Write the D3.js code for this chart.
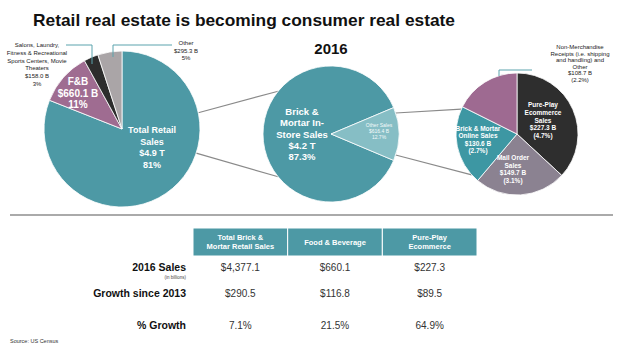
<!DOCTYPE html>
<html>
<head>
<meta charset="utf-8">
<script src="https://cdn.jsdelivr.net/npm/d3@7"></script>
<style>
  body { margin: 0; background: #fff; }
  text { font-family: "Liberation Sans", Arial, sans-serif; }
</style>
</head>
<body>
<div id="chart"></div>
<script>
// data
var retailNames = ["Total Retail Sales", "F&B", "Salons", "Other"];
var retailShare = [81, 11, 3, 5];
var retailColors = ["#4d99a5", "#9f6c91", "#2d2d2d", "#aaa5a7"];

var storeNames = ["Brick & Mortar In-Store Sales", "Other Sales"];
var storeShare = [87.3, 12.7];
var storeColors = ["#4d99a5", "#86bec5"];

var otherNames = ["Pure-Play Ecommerce Sales", "Mail Order Sales", "Brick & Mortar Online Sales", "Non-Merchandise Receipts"];
var otherValues = [227.3, 149.7, 130.6, 108.7];
var otherColors = ["#2e2e2e", "#8b8291", "#3d97a3", "#9e6a91"];

var colHeaders = [["Total Brick &", "Mortar Retail Sales"], ["Food & Beverage"], ["Pure-Play", "Ecommerce"]];
var rowLabels = ["2016 Sales", "Growth since 2013", "% Growth"];
var sales2016 = ["$4,377.1", "$660.1", "$227.3"];
var growth2013 = ["$290.5", "$116.8", "$89.5"];
var pctGrowth = ["7.1%", "21.5%", "64.9%"];

var width = 624, height = 352;
var svg = d3.select("#chart").append("svg")
    .attr("width", width)
    .attr("height", height);

// title
svg.append("text")
    .attr("x", 33).attr("y", 26)
    .attr("font-size", 17).attr("font-weight", "bold").attr("fill", "#111")
    .attr("textLength", 422).attr("lengthAdjust", "spacingAndGlyphs")
    .text("Retail real estate is becoming consumer real estate");

svg.append("text")
    .attr("x", 331).attr("y", 54)
    .attr("text-anchor", "middle")
    .attr("font-size", 15).attr("font-weight", "bold").attr("fill", "#111")
    .text("2016");

function pointAt(c, r, deg) {
  var a = deg * Math.PI / 180;
  return [c[0] + r * Math.sin(a), c[1] - r * Math.cos(a)];
}

// connector lines (under the pies)
var p1 = {c: [122, 129], r: 78};
var p2 = {c: [331, 134], r: 68};
var p3 = {c: [517, 134], r: 61};
var links = [
  [pointAt(p1.c, p1.r, 78), pointAt(p2.c, p2.r, 309)],
  [pointAt(p1.c, p1.r, 108), pointAt(p2.c, p2.r, 231)],
  [pointAt(p2.c, p2.r, 72), pointAt(p3.c, p3.r, 294)],
  [pointAt(p2.c, p2.r, 108), pointAt(p3.c, p3.r, 228)]
];
svg.append("g").selectAll("line")
  .data(links)
  .enter().append("line")
    .attr("x1", function(d) { return d[0][0]; })
    .attr("y1", function(d) { return d[0][1]; })
    .attr("x2", function(d) { return d[1][0]; })
    .attr("y2", function(d) { return d[1][1]; })
    .attr("stroke", "#8a8a8a").attr("stroke-width", 1.2);

function drawPie(p, values, colors, start) {
  var a0 = (start || 0) * Math.PI / 180;
  var pie = d3.pie().sort(null).startAngle(a0).endAngle(a0 + 2 * Math.PI);
  var arc = d3.arc().innerRadius(0).outerRadius(p.r);
  var g = svg.append("g").attr("transform", "translate(" + p.c[0] + "," + p.c[1] + ")");
  g.selectAll("path")
    .data(pie(values))
    .enter().append("path")
      .attr("d", arc)
      .attr("fill", function(d, i) { return colors[i]; })
      .attr("stroke", "#fff").attr("stroke-width", 0.8);
  return g;
}

drawPie(p1, retailShare, retailColors, 0);
// rotate so the small slice sits centred at 3 o'clock
var storeStart = 90 - storeShare[1] * 3.6 / 2 - storeShare[0] * 3.6;
drawPie(p2, storeShare, storeColors, storeStart);
drawPie(p3, otherValues, otherColors, 0);

function label(x, y, lines, size, lh, color, weight, anchor) {
  var t = svg.append("text")
      .attr("x", x).attr("y", y)
      .attr("text-anchor", anchor || "middle")
      .attr("font-size", size)
      .attr("font-weight", weight || "bold")
      .attr("fill", color);
  t.selectAll("tspan")
    .data(lines)
    .enter().append("tspan")
      .attr("x", x)
      .attr("dy", function(d, i) { return i === 0 ? 0 : lh; })
      .text(function(d) { return d; });
}

// pie 1 labels
label(152, 133, ["Total Retail", "Sales", "$4.9 T", "81%"], 9, 11.5, "#fff");
label(78, 85, ["F&B", "$660.1 B", "11%"], 10, 11.5, "#fff");
label(37, 47, ["Salons, Laundry,", "Fitness & Recreational", "Sports Centers, Movie", "Theaters", "$158.0 B", "3%"], 6, 7.8, "#222", "normal");
label(186, 45, ["Other", "$295.3 B", "5%"], 6, 7.5, "#222", "normal");

// leader lines
var leaders = [
  [[66, 45], [92, 45], [92, 64]],
  [[113, 57], [113, 45], [172, 45]],
  [[499, 76], [499, 70], [532, 70]]
];
svg.append("g").selectAll("path")
  .data(leaders)
  .enter().append("path")
    .attr("d", d3.line())
    .attr("fill", "none")
    .attr("stroke", "#5aa3ad").attr("stroke-width", 1);

// pie 2 labels
label(302, 115, ["Brick &", "Mortar In-", "Store Sales", "$4.2 T", "87.3%"], 9.5, 11.3, "#fff");
label(379, 127, ["Other Sales", "$616.4 B", "12.7%"], 5, 6, "#f4fafa", "normal");

// pie 3 labels
label(543, 107, ["Pure-Play", "Ecommerce", "Sales", "$227.3 B", "(4.7%)"], 6.5, 7.8, "#fff");
label(478, 131, ["Brick & Mortar", "Online Sales", "$130.6 B", "(2.7%)"], 6.5, 7.3, "#fff");
label(513, 160, ["Mail Order", "Sales", "$149.7 B", "(3.1%)"], 6.5, 7.6, "#fff");
label(580, 49, ["Non-Merchandise", "Receipts (i.e. shipping", "and handling) and", "Other", "$108.7 B", "(2.2%)"], 6, 6.6, "#222", "normal");

// separator
svg.append("line")
    .attr("x1", 10).attr("x2", 613).attr("y1", 215).attr("y2", 215)
    .attr("stroke", "#aaa").attr("stroke-width", 2);

// table
var cols = d3.scaleBand()
    .domain(d3.range(colHeaders.length))
    .range([193, 477]);
var rowY = [271, 297, 329];

var head = svg.append("g").selectAll("g")
  .data(colHeaders)
  .enter().append("g");
head.append("rect")
    .attr("x", function(d, i) { return cols(i); })
    .attr("y", 228)
    .attr("width", cols.bandwidth())
    .attr("height", 28)
    .attr("fill", "#4d99a5")
    .attr("stroke", "#fff").attr("stroke-width", 1);
head.each(function(d, i) {
  var cx = cols(i) + cols.bandwidth() / 2;
  var y0 = d.length === 1 ? 245 : 240;
  label(cx, y0, d, 7.5, 9, "#fff");
});

svg.append("g").selectAll("text")
  .data(rowLabels)
  .enter().append("text")
    .attr("x", 186)
    .attr("y", function(d, i) { return rowY[i]; })
    .attr("text-anchor", "end")
    .attr("font-size", 10.5).attr("font-weight", "bold").attr("fill", "#111")
    .text(function(d) { return d; });

svg.append("text")
    .attr("x", 186).attr("y", 279)
    .attr("text-anchor", "end")
    .attr("font-size", 4.5).attr("fill", "#444")
    .text("(in billions)");

var rows = [sales2016, growth2013, pctGrowth];
rows.forEach(function(vals, r) {
  svg.append("g").selectAll("text")
    .data(vals)
    .enter().append("text")
      .attr("x", function(d, i) { return cols(i) + cols.bandwidth() / 2; })
      .attr("y", rowY[r])
      .attr("text-anchor", "middle")
      .attr("font-size", 10).attr("fill", "#333")
      .text(function(d) { return d; });
});

svg.append("text")
    .attr("x", 10).attr("y", 343)
    .attr("font-size", 5.5).attr("fill", "#333")
    .text("Source: US Census");
</script>
</body>
</html>
